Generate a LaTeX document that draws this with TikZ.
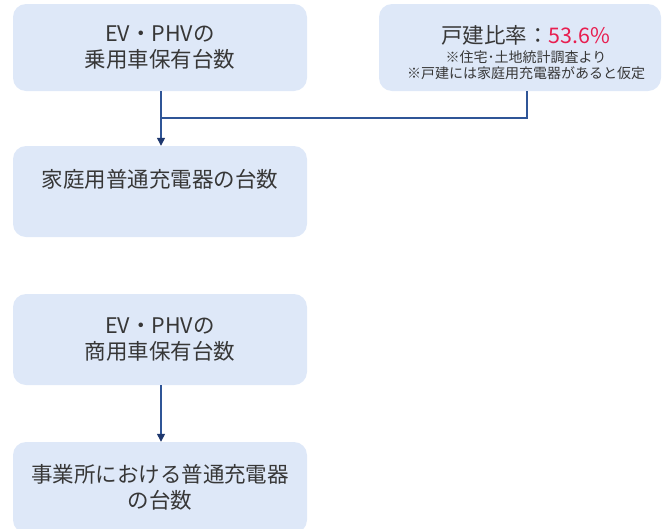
\documentclass[tikz,border=0pt]{standalone}
\usepackage{fontspec}
\setmainfont{Noto Sans CJK JP}
\usetikzlibrary{arrows.meta}
\definecolor{boxfill}{RGB}{222,232,248}
\definecolor{txt}{RGB}{55,55,55}
\definecolor{conn}{RGB}{47,85,151}
\definecolor{tipc}{RGB}{31,56,110}
\definecolor{accent}{RGB}{232,30,80}
\newcommand{\bigfs}{\fontsize{21.5}{24}\selectfont}
\newcommand{\smallfs}{\fontsize{14}{16}\selectfont}
\tikzset{
  box/.style={fill=boxfill, draw=none, rounded corners=13pt, minimum width=294pt, minimum height=87pt, align=center, text=txt, font=\fontsize{21.5}{26}\selectfont, inner sep=0pt},
  wire/.style={draw=conn, line width=1.3pt},
  arr/.style={wire, -{Triangle[width=8pt,length=8pt,color=tipc]}}
}
\begin{document}
\begin{tikzpicture}[x=1pt,y=-1pt]
\useasboundingbox (0,0) rectangle (662,528);
\clip (0,0) rectangle (662,528);
\node[box] (b1) at (160,47.5) {EV・PHVの\\乗用車保有台数};
\node[box, minimum width=282pt] (b2) at (520,47.5) {};
\node[text=txt, align=center, inner sep=0pt, font=\smallfs] (b2t) at (526,53) {\bigfs 戸建比率：\textcolor{accent}{53.6\%}\\[3pt]\smallfs ※住宅･土地統計調査より\\※戸建には家庭用充電器があると仮定};
\node[box, minimum height=91pt] (b3) at (160,191.5) {家庭用普通充電器の台数\\\mbox{}};
\node[box, minimum height=91pt] (b4) at (160,339.5) {EV・PHVの\\商用車保有台数};
\node[box, minimum height=91pt] (b5) at (160,487.5) {事業所における普通充電器\\の台数};
\coordinate (tap) at (527,0);
\coordinate (j) at (161,118);
\coordinate (c1) at (161,0);
\draw[arr] (b1.south -| c1) -- (b3.north -| c1);
\draw[wire] (b2.south -| tap) |- (j);
\draw[arr] (b4.south -| c1) -- (b5.north -| c1);
\end{tikzpicture}
\end{document}
